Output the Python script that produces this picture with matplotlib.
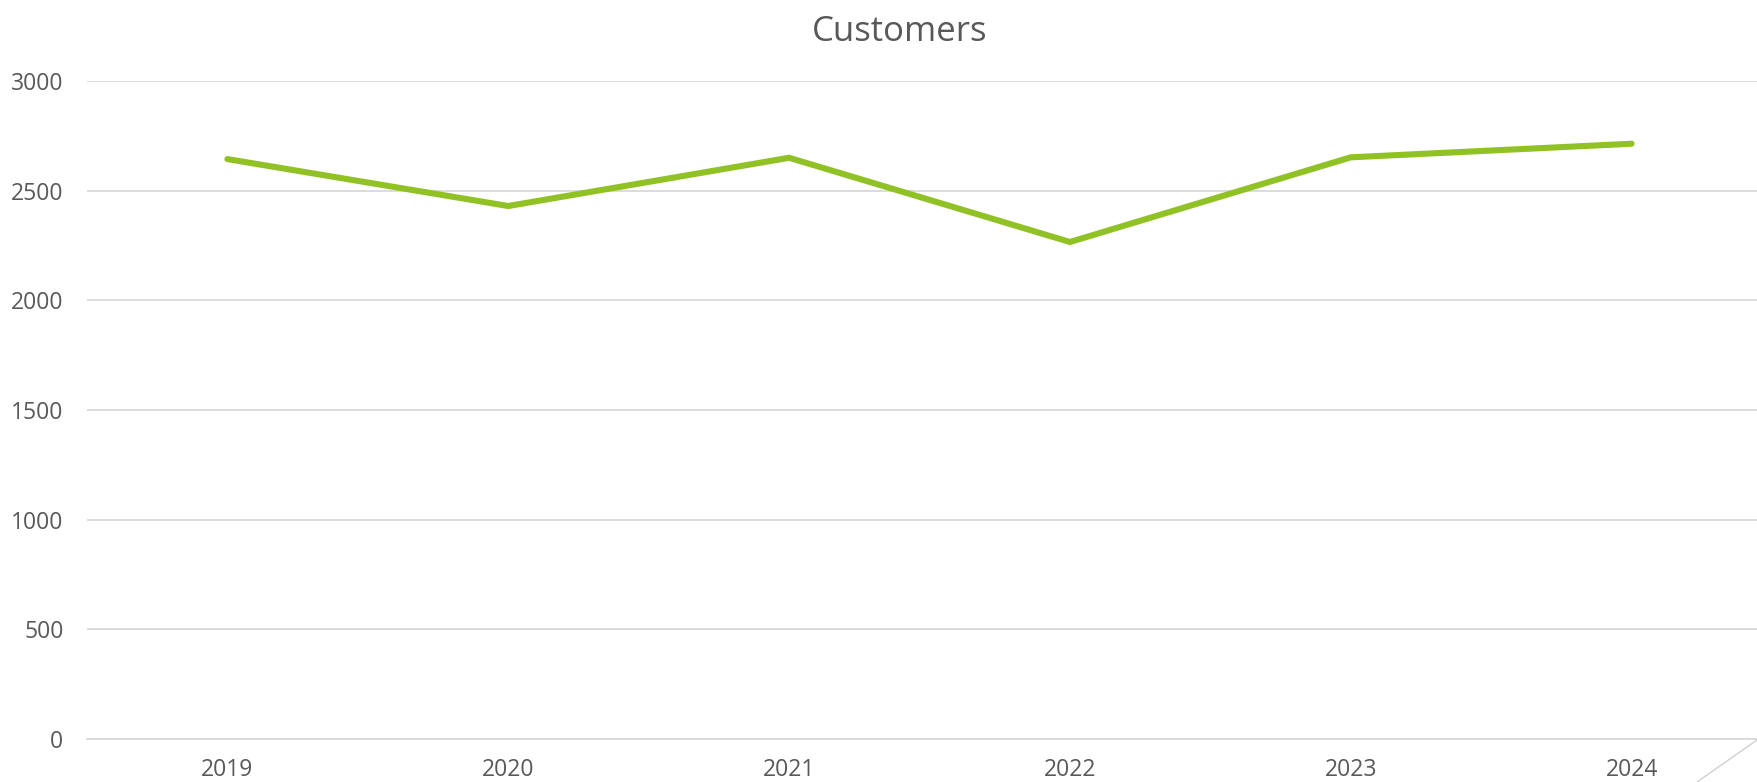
import matplotlib
matplotlib.use("Agg")
import matplotlib.pyplot as plt
from matplotlib.lines import Line2D

years = ["2019", "2020", "2021", "2022", "2023", "2024"]
customers = [2644, 2430, 2650, 2266, 2652, 2714]
y_ticks = [0, 500, 1000, 1500, 2000, 2500, 3000]

plt.rcParams['font.family'] = ['Open Sans', 'DejaVu Sans']
W, H = 1757, 782
fig = plt.figure(figsize=(W / 100, H / 100), dpi=100)
left = 87 / W
bottom = (H - 739) / H
top = (H - 81) / H
ax = fig.add_axes([left, bottom, 1685 / W, top - bottom])

x = list(range(len(years)))
ax.plot(x, customers, color='#90c226', lw=4.4, solid_capstyle='round',
        solid_joinstyle='miter', zorder=3)

ax.set_xlim(-0.5, len(years) - 0.5)
ax.set_ylim(0, 3000)
ax.set_yticks(y_ticks)
ax.set_yticklabels([str(v) for v in y_ticks])
ax.set_xticks(x)
ax.set_xticklabels(years)
ax.grid(axis='y', color='#d9d9d9', lw=1.3, zorder=0)
ax.set_axisbelow(True)
for s in ['top', 'right', 'left']:
    ax.spines[s].set_visible(False)
ax.spines['bottom'].set_color('#d9d9d9')
ax.spines['bottom'].set_linewidth(1.3)
ax.tick_params(axis='both', length=0, labelsize=16.5, labelcolor='#595959')
ax.tick_params(axis='y', pad=17)
ax.tick_params(axis='x', pad=14)

fig.text(900 / W, 1 - 41 / H, "Customers", ha='center', va='baseline',
         fontsize=25, color='#595959')

fig.add_artist(Line2D([1697 / W, 1.0], [0, (H - 740) / H],
                      transform=fig.transFigure, color='#d0d0d0', lw=1.0))

fig.savefig("out.png", dpi=100, facecolor='white')
